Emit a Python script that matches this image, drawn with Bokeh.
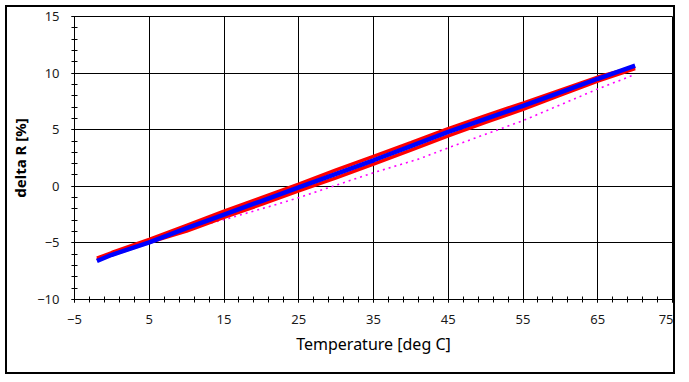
from bokeh.plotting import figure
from bokeh.models import Range1d, FixedTicker
from bokeh.embed import file_html
from bokeh.resources import INLINE

# ---- data ----
temp = [-2, 0, 5, 10, 15, 20, 25, 30, 35, 40, 45, 50, 55, 60, 65, 70]
blue_dr = [-6.6, -6.05, -4.95, -3.7, -2.5, -1.3, -0.1, 1.1, 2.3, 3.55, 4.8, 5.95, 7.1, 8.3, 9.5, 10.65]
red_up_dr = [-6.35, -5.85, -4.7, -3.45, -2.2, -1.0, 0.2, 1.45, 2.65, 3.85, 5.1, 6.25, 7.35, 8.5, 9.65, 10.55]
red_down_dr = [-6.5, -6.05, -4.95, -3.95, -2.75, -1.6, -0.4, 0.75, 1.95, 3.2, 4.45, 5.65, 6.8, 8.05, 9.3, 10.4]

mag_temp = [-2, 5, 9, 15, 21, 25, 35, 41, 45, 55, 65, 70]
mag_dr = [-6.5, -5.0, -3.95, -2.95, -1.8, -1.0, 1.2, 2.4, 3.4, 5.8, 8.6, 9.88]

x_ticks = [-5, 5, 15, 25, 35, 45, 55, 65, 75]
x_minor = list(range(-5, 76, 2))
y_ticks = [-10, -5, 0, 5, 10, 15]
y_minor = list(range(-10, 16, 1))

FONT = "Noto Sans"

p = figure(width=670, height=369, output_backend="svg", toolbar_location=None,
           x_range=Range1d(-5, 75), y_range=Range1d(-10, 15))
p.min_border_left = 66
p.min_border_right = 5
p.min_border_top = 9
p.min_border_bottom = 77
p.background_fill_color = "white"
p.border_fill_color = None
p.outline_line_color = "black"
p.outline_line_width = 1
# outer frame of the whole picture
p.styles = {"margin": "5px 0 0 5px", "border": "2px solid black",
            "background-color": "white"}

# data
p.line(mag_temp, mag_dr, line_color="#ff00ff", line_width=1.6, line_dash="2 4")
p.line(temp, red_up_dr, line_color="#ff0000", line_width=3.5)
p.line(temp, red_down_dr, line_color="#ff0000", line_width=3.5)
p.line(temp, blue_dr, line_color="#0000ff", line_width=4.5)

# grids
for g in (p.xgrid, p.ygrid):
    g.grid_line_color = "black"
    g.grid_line_width = 1
p.xgrid.ticker = FixedTicker(ticks=x_ticks)
p.ygrid.ticker = FixedTicker(ticks=y_ticks)

# axes
p.xaxis.ticker = FixedTicker(ticks=x_ticks, minor_ticks=x_minor)
p.yaxis.ticker = FixedTicker(ticks=y_ticks, minor_ticks=y_minor)
p.xaxis.axis_label = "Temperature [deg C]"
p.yaxis.axis_label = "delta R [%]"
for ax in (p.xaxis, p.yaxis):
    ax.axis_line_color = "black"
    ax.axis_line_width = 1
    ax.major_tick_line_color = "black"
    ax.minor_tick_line_color = "black"
    ax.major_tick_in = 3
    ax.major_tick_out = 3
    ax.minor_tick_in = 3
    ax.minor_tick_out = 3
    ax.major_label_text_font = FONT
    ax.major_label_text_font_size = "13px"
    ax.major_label_text_color = "#1a1a1a"
    ax.axis_label_text_font = FONT
    ax.axis_label_text_color = "black"
p.xaxis.major_label_standoff = 12
p.xaxis.axis_label_text_font_size = "16px"
p.xaxis.axis_label_text_font_style = "normal"
p.xaxis.axis_label_standoff = 6
p.yaxis.major_label_standoff = 12
p.yaxis.axis_label_text_font_size = "15px"
p.yaxis.axis_label_text_font_style = "bold"
p.yaxis.axis_label_standoff = 4

open("out.html", "w").write(file_html(p, INLINE))
